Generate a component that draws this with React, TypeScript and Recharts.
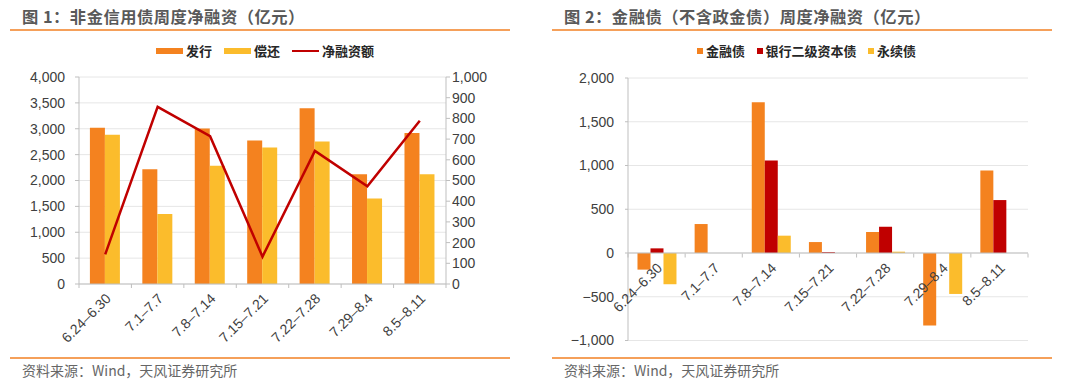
import React from "react"
import { ComposedChart, BarChart, Bar, Line, XAxis, YAxis, CartesianGrid, ReferenceLine } from "recharts"

const categories = ["6.24–6.30", "7.1–7.7", "7.8–7.14", "7.15–7.21", "7.22–7.28", "7.29–8.4", "8.5–8.11"]

// 图1
const issuance = [3020, 2215, 3005, 2773, 3396, 2123, 2916]
const repayment = [2883, 1353, 2286, 2636, 2753, 1650, 2123]
const netFinancing = [143, 856, 714, 132, 643, 472, 789]
const leftTicks = [0, 500, 1000, 1500, 2000, 2500, 3000, 3500, 4000]
const rightTicks = [0, 100, 200, 300, 400, 500, 600, 700, 800, 900, 1000]

// 图2
const financialBonds = [-190, 331, 1722, 125, 240, -829, 943]
const tier2Bonds = [53, 0, 1057, 10, 300, 0, 605]
const perpetualBonds = [-357, 0, 198, 0, 15, -468, 0]
const fig2Ticks = [-1000, -500, 0, 500, 1000, 1500, 2000]

const ORANGE = "#F4821F"
const YELLOW = "#FBBC2C"
const RED = "#C00000"
const AXIS = "#BFBFBF"
const GRID = "#E6E6E6"
const TEXT = "#404040"
const CJK = "'Noto Sans CJK SC', 'Noto Sans', sans-serif"
const LATIN = "'Liberation Sans', Arial, sans-serif"

const fmt = (v: number) => v.toLocaleString("en-US").replace("-", "−")

const fig1Data = categories.map((c, i) => ({
  cat: c,
  issuance: issuance[i],
  repayment: repayment[i],
  net: netFinancing[i],
}))

const fig2Data = categories.map((c, i) => ({
  cat: c,
  fin: financialBonds[i],
  tier2: tier2Bonds[i],
  perp: perpetualBonds[i],
}))

// pixels between plot bottom and the zero line in 图2
const ZERO_SHIFT = 87

function CatTick(props: any) {
  const { x, y, payload, index, shift = 0, last } = props
  const half = payload.offset || 26
  const y0 = y - shift
  return (
    <g>
      <line x1={x - half} x2={x - half} y1={y0} y2={y0 + 4} stroke={AXIS} />
      {index === last && <line x1={x + half} x2={x + half} y1={y0} y2={y0 + 4} stroke={AXIS} />}
      <text
        x={x + 3}
        y={y0 + 12}
        transform={`rotate(-45 ${x + 3} ${y0 + 12})`}
        textAnchor="end"
        dy="0.35em"
        fontSize={14}
        fill={TEXT}
        fontFamily={LATIN}
      >
        {payload.value}
      </text>
    </g>
  )
}

function Title({ left, text }: { left: number; text: string }) {
  return (
    <>
      <div style={{ position: "absolute", left: left + 12, top: 4, fontSize: 16.3, letterSpacing: 0.5, fontWeight: 700, color: "#595959", fontFamily: CJK, whiteSpace: "nowrap" }}>
        {text}
      </div>
      <div style={{ position: "absolute", left, top: 29, width: 500, height: 1.5, background: "#F5A05A" }} />
    </>
  )
}

function Source({ left }: { left: number }) {
  return (
    <>
      <div style={{ position: "absolute", left, top: 357, width: 500, height: 1.5, background: "#F5A05A" }} />
      <div style={{ position: "absolute", left: left + 12, top: 360, fontSize: 14, color: "#666", fontFamily: CJK, whiteSpace: "nowrap" }}>
        资料来源：Wind，天风证券研究所
      </div>
    </>
  )
}

const fig1Legend = [
  { name: "发行", color: ORANGE, kind: "bar" },
  { name: "偿还", color: YELLOW, kind: "bar" },
  { name: "净融资额", color: RED, kind: "line" },
]
const fig2Legend = [
  { name: "金融债", color: ORANGE },
  { name: "银行二级资本债", color: RED },
  { name: "永续债", color: YELLOW },
]

const legendStyle = {
  position: "absolute" as const,
  top: 41,
  display: "flex",
  alignItems: "center",
  fontFamily: CJK,
  fontSize: 13,
  fontWeight: 700,
  color: "#262626",
  whiteSpace: "nowrap" as const,
}

export default function App() {
  return (
    <div style={{ position: "absolute", left: 0, top: 0, width: 1080, height: 383, background: "#fff", overflow: "hidden" }}>
      <Title left={10} text="图 1：非金信用债周度净融资（亿元）" />
      <Title left={552} text="图 2：金融债（不含政金债）周度净融资（亿元）" />

      <div style={{ position: "absolute", left: 0, top: 0 }}>
        <ComposedChart width={510} height={383} data={fig1Data} barGap={0} barCategoryGap="20.8%"
          margin={{ top: 77, right: 14, bottom: 29, left: 29 }} style={{ fontFamily: LATIN }}>
          <CartesianGrid vertical={false} stroke={GRID} yAxisId="left" />
          <XAxis dataKey="cat" height={70} interval={0} tickSize={0} tickMargin={0} tickLine={false}
            axisLine={{ stroke: AXIS }} tick={<CatTick last={categories.length - 1} />} />
          <YAxis yAxisId="left" width={50} domain={[0, 4000]} ticks={leftTicks} interval={0} tickFormatter={fmt}
            tickSize={4} tickMargin={10} axisLine={{ stroke: AXIS }} tickLine={{ stroke: AXIS }}
            tick={{ fontSize: 14, fill: TEXT }} />
          <YAxis yAxisId="right" orientation="right" width={50} domain={[0, 1000]} ticks={rightTicks} interval={0} tickFormatter={fmt}
            tickSize={4} tickMargin={2} axisLine={{ stroke: AXIS }} tickLine={{ stroke: AXIS }}
            tick={{ fontSize: 14, fill: TEXT, textAnchor: "start" }} />
          <Bar yAxisId="left" dataKey="issuance" fill={ORANGE} isAnimationActive={false} />
          <Bar yAxisId="left" dataKey="repayment" fill={YELLOW} isAnimationActive={false} />
          <Line yAxisId="right" dataKey="net" type="linear" stroke={RED} strokeWidth={2.5} dot={false} isAnimationActive={false} />
        </ComposedChart>
      </div>

      <div style={{ position: "absolute", left: 540, top: 0 }}>
        <BarChart width={540} height={383} data={fig2Data} barGap={0} barCategoryGap="16.6%"
          margin={{ top: 78, right: 52, bottom: 41, left: 38 }} style={{ fontFamily: LATIN }}>
          <CartesianGrid vertical={false} stroke={GRID} />
          <XAxis dataKey="cat" height={1.5} interval={0} tickSize={0} tickMargin={0} tickLine={false}
            axisLine={false} tick={<CatTick shift={ZERO_SHIFT} last={categories.length - 1} />} />
          <YAxis width={50} domain={[-1000, 2000]} ticks={fig2Ticks} interval={0} tickFormatter={fmt}
            tickSize={3} tickMargin={11} axisLine={{ stroke: AXIS }} tickLine={{ stroke: AXIS }}
            tick={{ fontSize: 14, fill: TEXT }} />
          <ReferenceLine y={0} stroke={AXIS} />
          <Bar dataKey="fin" fill={ORANGE} isAnimationActive={false} />
          <Bar dataKey="tier2" fill={RED} isAnimationActive={false} />
          <Bar dataKey="perp" fill={YELLOW} isAnimationActive={false} />
        </BarChart>
      </div>

      <div style={{ ...legendStyle, left: 156 }}>
        {fig1Legend.map((l) => (
          <div key={l.name} style={{ display: "flex", alignItems: "center", marginRight: 12 }}>
            <div style={{ width: 27, height: l.kind === "bar" ? 6 : 2, background: l.color, marginRight: 3 }} />
            <span>{l.name}</span>
          </div>
        ))}
      </div>

      <div style={{ ...legendStyle, left: 697 }}>
        {fig2Legend.map((l) => (
          <div key={l.name} style={{ display: "flex", alignItems: "center", marginRight: 11.5 }}>
            <div style={{ width: 6, height: 6, background: l.color, marginRight: 3 }} />
            <span>{l.name}</span>
          </div>
        ))}
      </div>

      <Source left={10} />
      <Source left={552} />
    </div>
  )
}
